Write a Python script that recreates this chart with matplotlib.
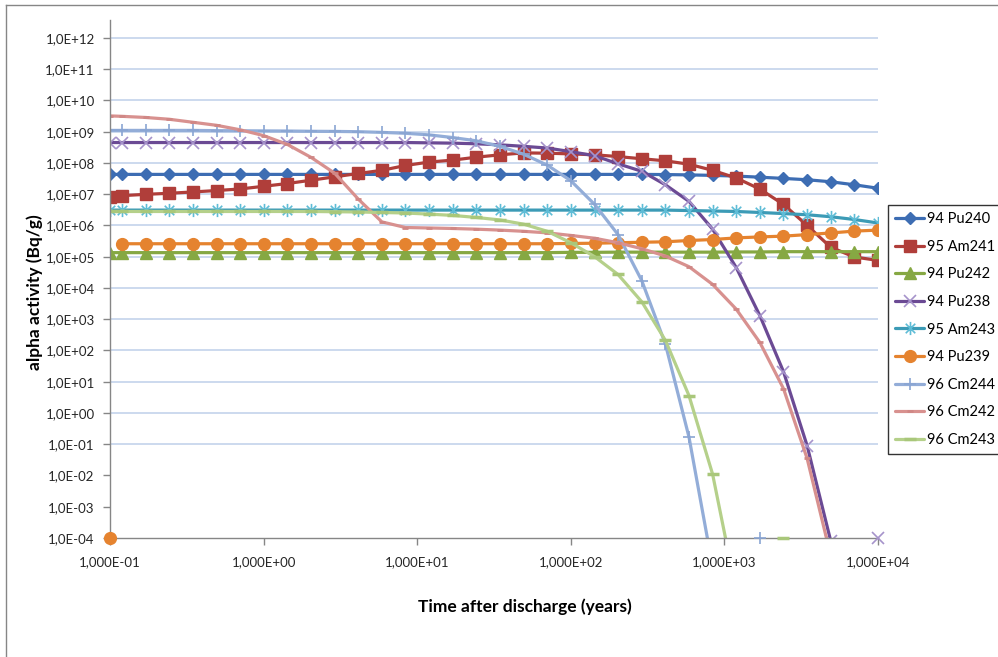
import numpy as np
import matplotlib
matplotlib.use('Agg')
import matplotlib.pyplot as plt
from matplotlib.path import Path
from matplotlib.lines import Line2D
from matplotlib.ticker import FixedLocator, FuncFormatter, NullLocator

plt.rcParams['font.family'] = ['Lato', 'DejaVu Sans']

nan = np.nan

# time after discharge (years)
years = [0.1, 0.12, 0.171, 0.243, 0.347, 0.494, 0.704,
         1.0, 1.43, 2.04, 2.9, 4.13, 5.89, 8.39,
         12.0, 17.0, 24.3, 34.6, 49.3, 70.3,
         100.0, 143.0, 203.0, 290.0, 413.0, 588.0, 838.0,
         1194.0, 1702.0, 2425.0, 3456.0, 4925.0, 7018.0, 10000.0]

# alpha activity (Bq/g) per nuclide
pu240 = [4.3e7, 4.3e7, 4.3e7, 4.3e7, 4.3e7, 4.3e7, 4.3e7,
         4.3e7, 4.3e7, 4.3e7, 4.3e7, 4.3e7, 4.3e7, 4.3e7,
         4.3e7, 4.3e7, 4.3e7, 4.3e7, 4.3e7, 4.3e7,
         4.3e7, 4.3e7, 4.3e7, 4.3e7, 4.25e7, 4.15e7, 4.0e7,
         3.8e7, 3.5e7, 3.2e7, 2.9e7, 2.5e7, 2.0e7, 1.55e7]
am241 = [8.0e6, 9.0e6, 9.9e6, 1.07e7, 1.18e7, 1.31e7, 1.47e7,
         1.79e7, 2.2e7, 2.8e7, 3.6e7, 4.6e7, 5.8e7, 8.3e7,
         1.07e8, 1.23e8, 1.53e8, 1.82e8, 2.1e8, 2.05e8,
         1.95e8, 1.82e8, 1.6e8, 1.36e8, 1.17e8, 9.1e7, 5.8e7,
         3.3e7, 1.46e7, 4.7e6, 1.0e6, 2.0e5, 9.8e4, 7.6e4]
pu242 = [1.35e5, 1.35e5, 1.35e5, 1.35e5, 1.35e5, 1.35e5, 1.35e5,
         1.35e5, 1.35e5, 1.35e5, 1.35e5, 1.35e5, 1.35e5, 1.35e5,
         1.35e5, 1.35e5, 1.35e5, 1.35e5, 1.35e5, 1.35e5,
         1.38e5, 1.38e5, 1.4e5, 1.4e5, 1.4e5, 1.4e5, 1.4e5,
         1.42e5, 1.42e5, 1.45e5, 1.45e5, 1.45e5, 1.45e5, 1.45e5]
pu238 = [4.5e8, 4.5e8, 4.5e8, 4.5e8, 4.5e8, 4.5e8, 4.5e8,
         4.5e8, 4.5e8, 4.5e8, 4.5e8, 4.5e8, 4.5e8, 4.5e8,
         4.4e8, 4.3e8, 4.1e8, 3.8e8, 3.4e8, 3.0e8,
         2.3e8, 1.7e8, 9.4e7, 5.4e7, 2.0e7, 5.9e6, 7.6e5,
         4.5e4, 1.3e3, 21.0, 0.09, 8e-5, nan, nan]
am243 = [3.1e6, 3.1e6, 3.1e6, 3.1e6, 3.1e6, 3.1e6, 3.1e6,
         3.1e6, 3.1e6, 3.1e6, 3.1e6, 3.1e6, 3.1e6, 3.1e6,
         3.1e6, 3.1e6, 3.1e6, 3.1e6, 3.1e6, 3.1e6,
         3.1e6, 3.1e6, 3.1e6, 3.1e6, 3.1e6, 3.0e6, 2.9e6,
         2.8e6, 2.6e6, 2.4e6, 2.2e6, 1.9e6, 1.55e6, 1.2e6]
pu239 = [nan, 2.6e5, 2.6e5, 2.6e5, 2.6e5, 2.6e5, 2.6e5,
         2.6e5, 2.6e5, 2.6e5, 2.6e5, 2.6e5, 2.6e5, 2.6e5,
         2.6e5, 2.6e5, 2.6e5, 2.6e5, 2.6e5, 2.6e5,
         2.65e5, 2.7e5, 2.8e5, 2.9e5, 3.0e5, 3.3e5, 3.55e5,
         4.0e5, 4.3e5, 4.55e5, 5.1e5, 5.75e5, 6.6e5, 7.1e5]
cm244 = [1.1e9, 1.1e9, 1.1e9, 1.1e9, 1.1e9, 1.08e9, 1.07e9,
         1.06e9, 1.05e9, 1.03e9, 1.02e9, 1.0e9, 9.5e8, 8.9e8,
         7.9e8, 6.5e8, 5.1e8, 3.4e8, 1.9e8, 8.5e7,
         2.7e7, 4.7e6, 5.1e5, 1.7e4, 160.0, 0.17, 1.2e-5,
         nan, nan, nan, nan, nan, nan, nan]
cm242 = [3.2e9, 3.1e9, 2.85e9, 2.5e9, 2.0e9, 1.6e9, 1.15e9,
         7.5e8, 3.9e8, 1.5e8, 4.7e7, 7.0e6, 1.3e6, 8.6e5,
         8.3e5, 8.0e5, 7.6e5, 7.1e5, 6.5e5, 5.8e5,
         4.8e5, 3.9e5, 2.8e5, 1.8e5, 1.05e5, 4.8e4, 1.3e4,
         2.1e3, 180.0, 6.0, 0.035, 2.7e-5, nan, nan]
cm243 = [2.8e6, 2.8e6, 2.8e6, 2.8e6, 2.8e6, 2.8e6, 2.8e6,
         2.8e6, 2.8e6, 2.8e6, 2.75e6, 2.7e6, 2.6e6, 2.5e6,
         2.3e6, 2.1e6, 1.8e6, 1.5e6, 1.1e6, 6.5e5,
         2.8e5, 1.0e5, 2.7e4, 3.6e3, 210.0, 3.6, 0.011,
         2e-6, nan, nan, nan, nan, nan, nan]

# zero activities, drawn on the axis floor
y_floor = 1e-4
floor_pu238 = [10000.0]
floor_pu239 = [0.1]
floor_cm244 = [1702.0]
floor_cm243 = [2425.0]

labels = ['94 Pu240', '95 Am241', '94 Pu242', '94 Pu238', '95 Am243',
          '94 Pu239', '96 Cm244', '96 Cm242', '96 Cm243']

# excel-like "star" marker: x with a vertical bar
star = Path([(0, -1), (0, 1), (-0.72, -0.72), (0.72, 0.72), (-0.72, 0.72), (0.72, -0.72)],
            [Path.MOVETO, Path.LINETO, Path.MOVETO, Path.LINETO, Path.MOVETO, Path.LINETO])

styles = [
    dict(color='#3D6DB3', marker='D', ms=6.5, mfc='#3D6DB3', mec='#3D6DB3'),
    dict(color='#B03E3A', marker='s', ms=8.5, mfc='#B03E3A', mec='#B03E3A'),
    dict(color='#86A843', marker='^', ms=8.5, mfc='#86A843', mec='#86A843'),
    dict(color='#6B4A94', marker='x', ms=8.5, mec='#A693CB', mew=1.2),
    dict(color='#3C9BB6', marker=star, ms=9.5, mec='#5EBCD6', mfc='none', mew=1.2),
    dict(color='#E5832F', marker='o', ms=8.5, mfc='#E5832F', mec='#E5832F'),
    dict(color='#93ADD8', marker='+', ms=8.5, mec='#8AA5D3', mew=1.2),
    dict(color='#D8918F', marker='_', ms=5, mec='#D08785', mew=2),
    dict(color='#B5D08A', marker='_', ms=8, mec='#A9C77A', mew=2.5),
]
series = [pu240, am241, pu242, pu238, am243, pu239, cm244, cm242, cm243]

fig = plt.figure(figsize=(9.98, 6.57), dpi=100)
W, H = 998.0, 657.0
ax = fig.add_axes([110 / W, 1 - 538 / H, (878 - 110) / W, (538 - 20) / H])

ax.set_xscale('log')
ax.set_yscale('log')
ax.set_xlim(0.1, 1e4)
ax.set_ylim(1e-4, 10 ** (12 + 18 / 31.375))

for e in range(-1, 13):
    ax.axhline(10.0 ** e, color='#BFD0EA', lw=1.1, zorder=0)

handles = []
for vals, lab, st in zip(series, labels, styles):
    h, = ax.plot(years, vals, lw=2.3, label=lab, solid_capstyle='round', **st)
    handles.append(h)

# floor markers (no line)
ax.plot(floor_pu238, [y_floor] * len(floor_pu238), ls='none', clip_on=False, zorder=5,
        marker='x', ms=8.5, mec='#A693CB', mew=1.2)
ax.plot(floor_pu239, [y_floor] * len(floor_pu239), ls='none', clip_on=False, zorder=5,
        marker='o', ms=8.5, mfc='#E5832F', mec='#E5832F')
ax.plot(floor_cm244, [y_floor] * len(floor_cm244), ls='none', clip_on=False, zorder=5,
        marker='+', ms=8.5, mec='#8AA5D3', mew=1.2)
ax.plot(floor_cm243, [y_floor] * len(floor_cm243), ls='none', clip_on=False, zorder=5,
        marker='_', ms=8, mec='#A9C77A', mew=2.5)

for s in ['top', 'right']:
    ax.spines[s].set_visible(False)
for s in ['left', 'bottom']:
    ax.spines[s].set_color('#868686')
    ax.spines[s].set_linewidth(1.0)

ax.xaxis.set_major_locator(FixedLocator([10.0 ** e for e in range(-1, 5)]))
ax.yaxis.set_major_locator(FixedLocator([10.0 ** e for e in range(-4, 13)]))
ax.xaxis.set_minor_locator(NullLocator())
ax.yaxis.set_minor_locator(NullLocator())


def xfmt(v, pos):
    e = int(round(np.log10(v)))
    return '1,000E%+03d' % e


def yfmt(v, pos):
    e = int(round(np.log10(v)))
    return '1,0E%+03d' % e


ax.xaxis.set_major_formatter(FuncFormatter(xfmt))
ax.yaxis.set_major_formatter(FuncFormatter(yfmt))
ax.tick_params(axis='both', colors='#868686', length=5, width=1, labelsize=9.5,
               labelcolor='#262626')
ax.tick_params(axis='x', pad=8)
ax.tick_params(axis='y', pad=6)

fig.text(525 / W, 1 - 607 / H, 'Time after discharge (years)', ha='center', va='center',
         fontsize=12.5, fontweight='bold', color='black')
fig.text(35 / W, 1 - 292 / H, 'alpha activity (Bq/g)', ha='center', va='center',
         rotation=90, fontsize=12.5, fontweight='bold', color='black')

leg = fig.legend(handles=handles, labels=labels, loc='upper left',
                 bbox_to_anchor=(888 / W, 1 - 205 / H), borderaxespad=0,
                 fontsize=10.5, frameon=True, fancybox=False, handlelength=2.0,
                 handletextpad=0.15, labelspacing=0.93, borderpad=0.5)
leg.get_frame().set_edgecolor('black')
leg.get_frame().set_linewidth(1.0)

# chart area border
fig.add_artist(Line2D([5.5 / W, 5.5 / W], [0, 1 - 5 / H], color='#868686', lw=1))
fig.add_artist(Line2D([5.5 / W, 1], [1 - 5 / H, 1 - 5 / H], color='#868686', lw=1))

fig.savefig('out.png', dpi=100)
